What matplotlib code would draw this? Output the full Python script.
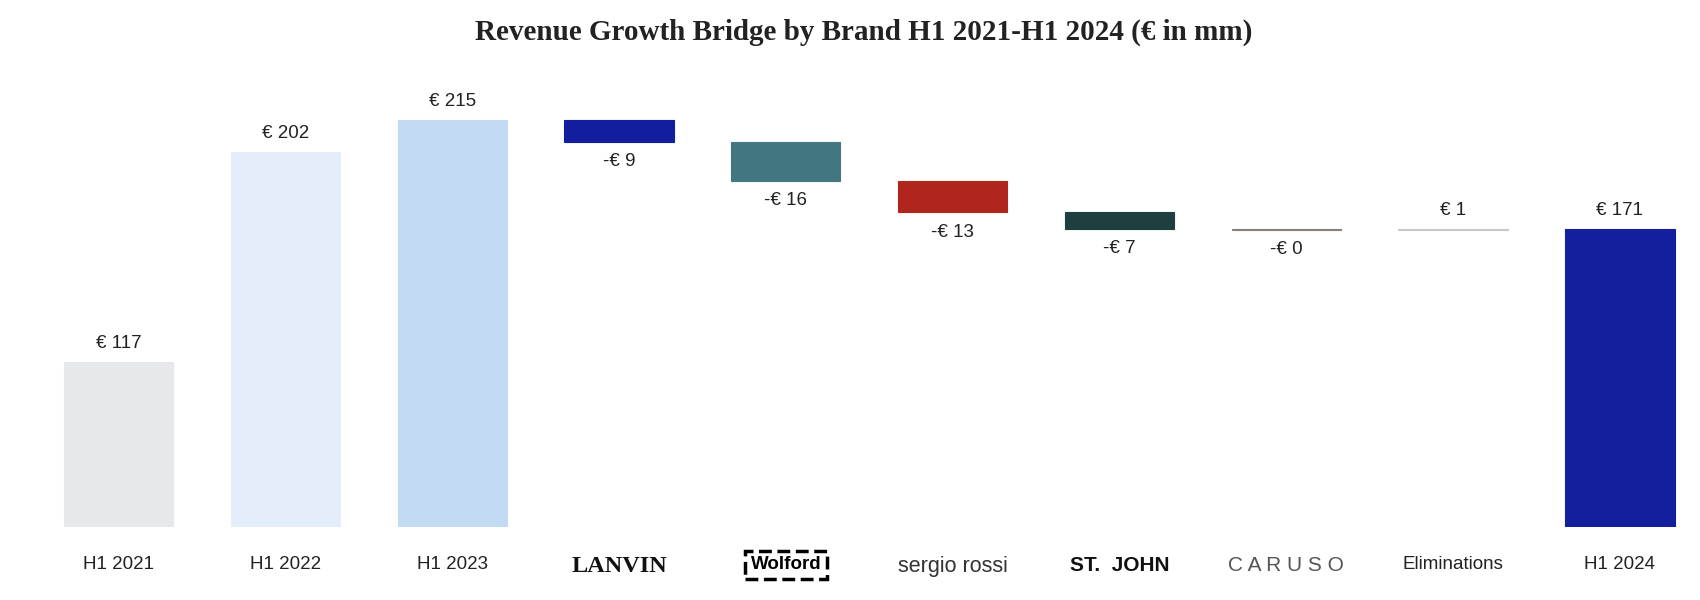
import numpy as np
import matplotlib.pyplot as plt

categories = ['H1 2021', 'H1 2022', 'H1 2023', 'LANVIN', 'Wolford', 'sergio rossi',
              'ST. JOHN', 'CARUSO', 'Eliminations', 'H1 2024']
tick_text = ['H1 2021', 'H1 2022', 'H1 2023', 'LANVIN', 'Wolford', 'sergio rossi',
             'ST.  JOHN', 'C A R U S O', 'Eliminations', 'H1 2024']
totals = {'H1 2021': 117, 'H1 2022': 202, 'H1 2023': 215}
deltas = [-8.8, -15.8, -12.9, -6.8, -0.3, 0.6]
colors = ['#E6E8EC', '#E3EEFA', '#C2DBF3', '#121E9E', '#427782', '#B0261C',
          '#1F3E3F', '#8A7F72', '#C8C8C8', '#131F9C']

# build waterfall
bottoms, heights, labels = [], [], []
for c in categories[:3]:
    bottoms.append(0)
    heights.append(totals[c])
    labels.append(f'€ {totals[c]:.0f}')
running = totals['H1 2023']
for d in deltas:
    bottoms.append(running + min(d, 0))
    heights.append(abs(d))
    labels.append(f'-€ {abs(d):.0f}' if d < 0 else f'€ {d:.0f}')
    running += d
bottoms.append(0)
heights.append(running)
labels.append(f'€ {running:.0f}')

fig = plt.figure(figsize=(17, 6), dpi=100)
ax = fig.add_axes([0, 0.1217, 1, 0.74])
x = np.arange(len(categories))
ax.bar(x, heights, bottom=bottoms, width=0.655, color=colors,
       edgecolor=colors, linewidth=0.8)

for i, (b, h, lab) in enumerate(zip(bottoms, heights, labels)):
    if lab.startswith('-'):
        ax.annotate(lab, (i, b), xytext=(0, -8), textcoords='offset points',
                    ha='center', va='top', fontsize=13.5, family='Liberation Sans',
                    color='#222222')
    else:
        ax.annotate(lab, (i, b + h), xytext=(0, 7), textcoords='offset points',
                    ha='center', va='bottom', fontsize=13.5, family='Liberation Sans',
                    color='#222222')

ax.set_ylim(50, 230)
ax.set_xlim(-0.711, 9.48)
ax.set_xticks(x)
ax.set_xticklabels(tick_text)
ax.tick_params(length=0, pad=21)
lab = ax.get_xticklabels()
for t in lab:
    t.set_family('Liberation Sans')
    t.set_fontsize(13.5)
    t.set_color('#222222')
lab[3].set_family('Liberation Serif')
lab[3].set_fontsize(17.5)
lab[3].set_weight('bold')
lab[3].set_color('#111111')
lab[4].set_fontsize(13.5)
lab[4].set_weight('bold')
lab[4].set_color('black')
lab[4].set_bbox(dict(boxstyle='square,pad=0.3', fc='white', ec='black', ls='--', lw=2.5))
lab[5].set_fontsize(15.5)
lab[5].set_color('#333333')
lab[6].set_fontsize(15)
lab[6].set_weight('bold')
lab[6].set_color('#111111')
lab[7].set_fontsize(15)
lab[7].set_color('#555555')

for s in ax.spines.values():
    s.set_visible(False)
ax.set_yticks([])

fig.text(0.508, 0.946, 'Revenue Growth Bridge by Brand H1 2021-H1 2024 (€ in mm)',
         ha='center', va='center', fontsize=21, family='Liberation Serif',
         weight='bold', color='#222222')

fig.savefig('out.png')
